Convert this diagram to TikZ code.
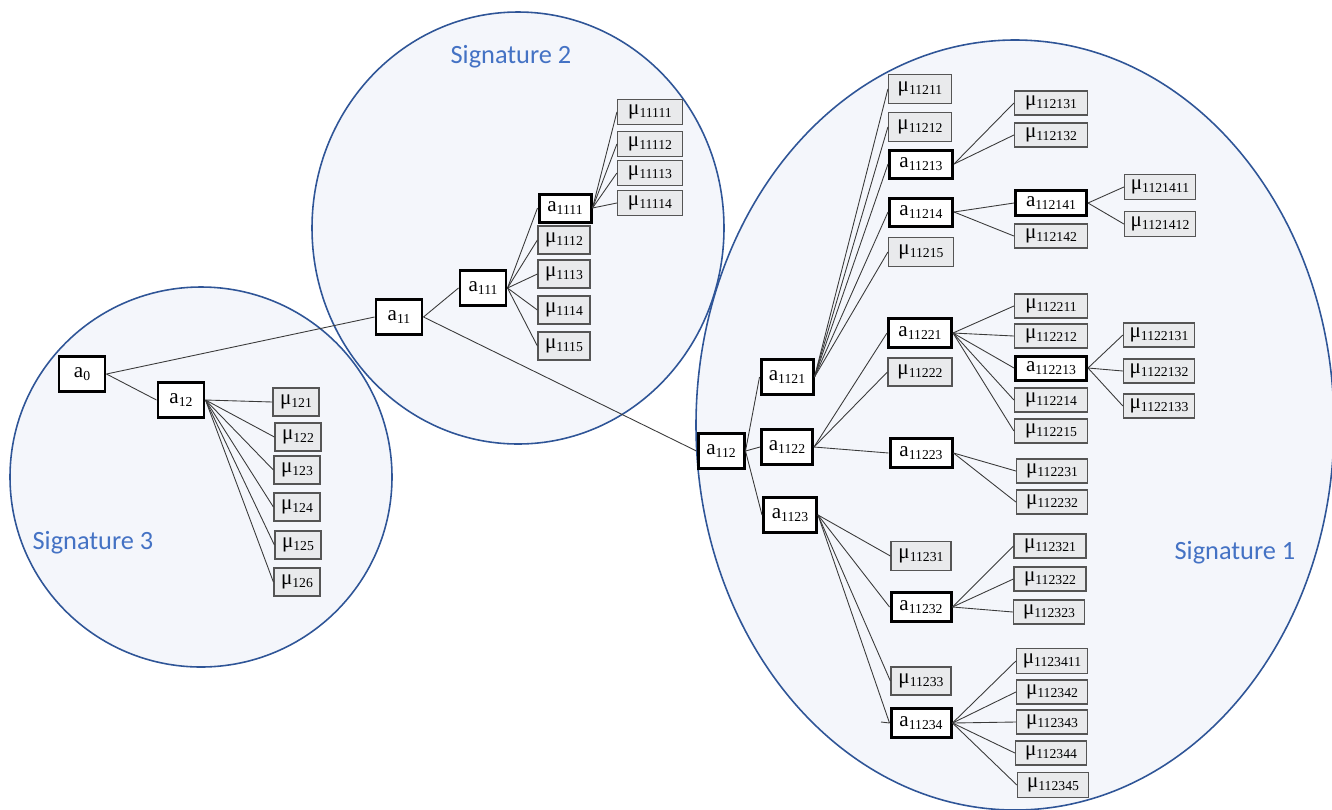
\documentclass[tikz,border=0pt]{standalone}
\usepackage{fontspec}
\setmainfont{Liberation Serif}
\newfontfamily\sigfont{Carlito}
\usepackage{xcolor}
\definecolor{cSigLine}{HTML}{2F5597}
\definecolor{cSigFill}{HTML}{F4F6FB}
\definecolor{cSigText}{HTML}{4472C4}
\definecolor{cMuFill}{HTML}{E9EAEC}
\definecolor{cMuLine}{HTML}{555555}
\definecolor{cLink}{HTML}{3A3A3A}
\usepackage{tikz}
\newcommand{\idxText}[1]{\raisebox{-1.8pt}{\fontsize{7.8}{9}\selectfont #1}}
\newcommand{\aLab}[1]{a\idxText{#1}}
\newcommand{\muLab}[1]{μ\idxText{#1}}
\tikzset{
  node-act/.style={draw=black,line width=1.7pt,fill=white,inner sep=0pt,
    font=\fontsize{12}{14}\selectfont},
  node-mu/.style={draw=cMuLine,line width=0.7pt,fill=cMuFill,inner sep=0pt,
    font=\fontsize{12}{14}\selectfont},
  box-size/.style 2 args={minimum width=#1*0.02cm,minimum height=#2*0.02cm},
  link/.style={draw=cLink,line width=0.5pt},
  sig-area/.style={draw=cSigLine,line width=0.9pt},
  sig-label/.style={text=cSigText,font=\sigfont\fontsize{15}{18}\selectfont},
}

\begin{document}
\begin{tikzpicture}[x=0.02cm,y=-0.02cm]
  \useasboundingbox (0,0) rectangle (1332,809);
  % signature areas: fills first, then outlines
  \foreach \cx/\cy/\rx/\ry in {201/477/191/190,518/228/206/216,1015/425/319/385}
    \fill[cSigFill] (\cx,\cy) ellipse [x radius=\rx,y radius=\ry];
  \foreach \cx/\cy/\rx/\ry in {201/477/191/190,518/228/206/216,1015/425/319/385}
    \draw[sig-area] (\cx,\cy) ellipse [x radius=\rx,y radius=\ry];
  \node[sig-label] (sig1) at (1235,553) {Signature 1};
  \node[sig-label] (sig2) at (511,57) {Signature 2};
  \node[sig-label] (sig3) at (93,543) {Signature 3};

  % action nodes
  \node[node-act,box-size={46}{35}] (a0) at (82,374) {\aLab{0}};
  \node[node-act,box-size={46}{35}] (a12) at (181,400) {\aLab{12}};
  \node[node-act,box-size={46}{35}] (a11) at (399,317) {\aLab{11}};
  \node[node-act,box-size={46}{35}] (a111) at (483,288) {\aLab{111}};
  \node[node-act,box-size={52}{28}] (a1111) at (565,208) {\aLab{1111}};
  \node[node-act,box-size={46}{35}] (a112) at (721,451) {\aLab{112}};
  \node[node-act,box-size={52}{35}] (a1121) at (787,377) {\aLab{1121}};
  \node[node-act,box-size={51}{35}] (a1122) at (787,447) {\aLab{1122}};
  \node[node-act,box-size={53}{35}] (a1123) at (790,515) {\aLab{1123}};
  \node[node-act,box-size={63}{28}] (a11213) at (921,164) {\aLab{11213}};
  \node[node-act,box-size={63}{28}] (a11214) at (921,212) {\aLab{11214}};
  \node[node-act,box-size={63}{29}] (a11221) at (920,333) {\aLab{11221}};
  \node[node-act,box-size={62}{29}] (a11223) at (921,453) {\aLab{11223}};
  \node[node-act,box-size={60}{29}] (a11232) at (921,607) {\aLab{11232}};
  \node[node-act,box-size={60}{29}] (a11234) at (921,723) {\aLab{11234}};
  \node[node-act,box-size={71}{25}] (a112141) at (1051,203) {\aLab{112141}};
  \node[node-act,box-size={71}{24}] (a112213) at (1051,368) {\aLab{112213}};

  % mu nodes, signature 3
  \node[node-mu,box-size={46}{28}] (m121) at (296,402) {\muLab{121}};
  \node[node-mu,box-size={46}{28}] (m122) at (298,437) {\muLab{122}};
  \node[node-mu,box-size={46}{28}] (m123) at (297,470) {\muLab{123}};
  \node[node-mu,box-size={46}{28}] (m124) at (297,507) {\muLab{124}};
  \node[node-mu,box-size={46}{28}] (m125) at (298,545) {\muLab{125}};
  \node[node-mu,box-size={46}{28}] (m126) at (297,582) {\muLab{126}};
  % mu nodes, signature 2
  \node[node-mu,box-size={52}{28}] (m1112) at (564,240) {\muLab{1112}};
  \node[node-mu,box-size={52}{28}] (m1113) at (564,274) {\muLab{1113}};
  \node[node-mu,box-size={52}{28}] (m1114) at (564,310) {\muLab{1114}};
  \node[node-mu,box-size={52}{28}] (m1115) at (564,346) {\muLab{1115}};
  \node[node-mu,box-size={65}{25}] (m11111) at (650,112) {\muLab{11111}};
  \node[node-mu,box-size={65}{25}] (m11112) at (650,144) {\muLab{11112}};
  \node[node-mu,box-size={65}{25}] (m11113) at (650,173) {\muLab{11113}};
  \node[node-mu,box-size={65}{25}] (m11114) at (650,203) {\muLab{11114}};
  % mu nodes, signature 1
  \node[node-mu,box-size={63}{29}] (m11211) at (920,89) {\muLab{11211}};
  \node[node-mu,box-size={63}{29}] (m11212) at (920,127) {\muLab{11212}};
  \node[node-mu,box-size={65}{29}] (m11215) at (921,252) {\muLab{11215}};
  \node[node-mu,box-size={64}{28}] (m11222) at (920,372) {\muLab{11222}};
  \node[node-mu,box-size={60}{29}] (m11231) at (921,556) {\muLab{11231}};
  \node[node-mu,box-size={60}{28}] (m11233) at (921,681) {\muLab{11233}};
  \node[node-mu,box-size={73}{24}] (m112131) at (1051,103) {\muLab{112131}};
  \node[node-mu,box-size={73}{24}] (m112132) at (1051,135) {\muLab{112132}};
  \node[node-mu,box-size={73}{24}] (m112142) at (1051,236) {\muLab{112142}};
  \node[node-mu,box-size={71}{25}] (m1121411) at (1160,187) {\muLab{1121411}};
  \node[node-mu,box-size={71}{25}] (m1121412) at (1160,224) {\muLab{1121412}};
  \node[node-mu,box-size={73}{24}] (m112211) at (1051,306) {\muLab{112211}};
  \node[node-mu,box-size={73}{24}] (m112212) at (1051,336) {\muLab{112212}};
  \node[node-mu,box-size={73}{24}] (m112214) at (1051,400) {\muLab{112214}};
  \node[node-mu,box-size={73}{24}] (m112215) at (1051,431) {\muLab{112215}};
  \node[node-mu,box-size={71}{24}] (m112231) at (1052,471) {\muLab{112231}};
  \node[node-mu,box-size={71}{24}] (m112232) at (1052,502) {\muLab{112232}};
  \node[node-mu,box-size={71}{24}] (m1122131) at (1159,335) {\muLab{1122131}};
  \node[node-mu,box-size={71}{24}] (m1122132) at (1159,371) {\muLab{1122132}};
  \node[node-mu,box-size={71}{24}] (m1122133) at (1159,406) {\muLab{1122133}};
  \node[node-mu,box-size={72}{24}] (m112321) at (1050,546) {\muLab{112321}};
  \node[node-mu,box-size={72}{24}] (m112322) at (1050,579) {\muLab{112322}};
  \node[node-mu,box-size={71}{24}] (m112323) at (1049,612) {\muLab{112323}};
  \node[node-mu,box-size={71}{25}] (m1123411) at (1052,661) {\muLab{1123411}};
  \node[node-mu,box-size={71}{24}] (m112342) at (1052,692) {\muLab{112342}};
  \node[node-mu,box-size={71}{24}] (m112343) at (1052,722) {\muLab{112343}};
  \node[node-mu,box-size={71}{24}] (m112344) at (1051,753) {\muLab{112344}};
  \node[node-mu,box-size={71}{25}] (m112345) at (1053,785) {\muLab{112345}};
  \coordinate (stub) at (881,722);

  % links
  \draw[link] (a0.east) -- (a11.west);
  \draw[link] (a0.east) -- (a12.west);
  \foreach \c in {m121,m122,m123,m124,m125,m126}
    \draw[link] (a12.east) -- (\c.west);
  \draw[link] (a11.east) -- (a111.west);
  \draw[link] (a11.east) -- (a112.west);
  \foreach \c in {a1111,m1112,m1113,m1114,m1115}
    \draw[link] (a111.east) -- (\c.west);
  \foreach \c in {m11111,m11112,m11113,m11114}
    \draw[link] (a1111.east) -- (\c.west);
  \foreach \c in {a1121,a1122,a1123}
    \draw[link] (a112.east) -- (\c.west);
  \foreach \c in {m11211,m11212,a11213,a11214,m11215}
    \draw[link] (a1121.east) -- (\c.west);
  \foreach \c in {m112131,m112132}
    \draw[link] (a11213.east) -- (\c.west);
  \foreach \c in {a112141,m112142}
    \draw[link] (a11214.east) -- (\c.west);
  \foreach \c in {m1121411,m1121412}
    \draw[link] (a112141.east) -- (\c.west);
  \foreach \c in {a11221,m11222,a11223}
    \draw[link] (a1122.east) -- (\c.west);
  \foreach \c in {m112211,m112212,a112213,m112214,m112215}
    \draw[link] (a11221.east) -- (\c.west);
  \foreach \c in {m1122131,m1122132,m1122133}
    \draw[link] (a112213.east) -- (\c.west);
  \foreach \c in {m112231,m112232}
    \draw[link] (a11223.east) -- (\c.west);
  \foreach \c in {m11231,a11232,m11233,a11234}
    \draw[link] (a1123.east) -- (\c.west);
  \foreach \c in {m112321,m112322,m112323}
    \draw[link] (a11232.east) -- (\c.west);
  \foreach \c in {m1123411,m112342,m112343,m112344,m112345}
    \draw[link] (a11234.east) -- (\c.west);
  \draw[link] (stub) -- (a11234.west);
\end{tikzpicture}
\end{document}
